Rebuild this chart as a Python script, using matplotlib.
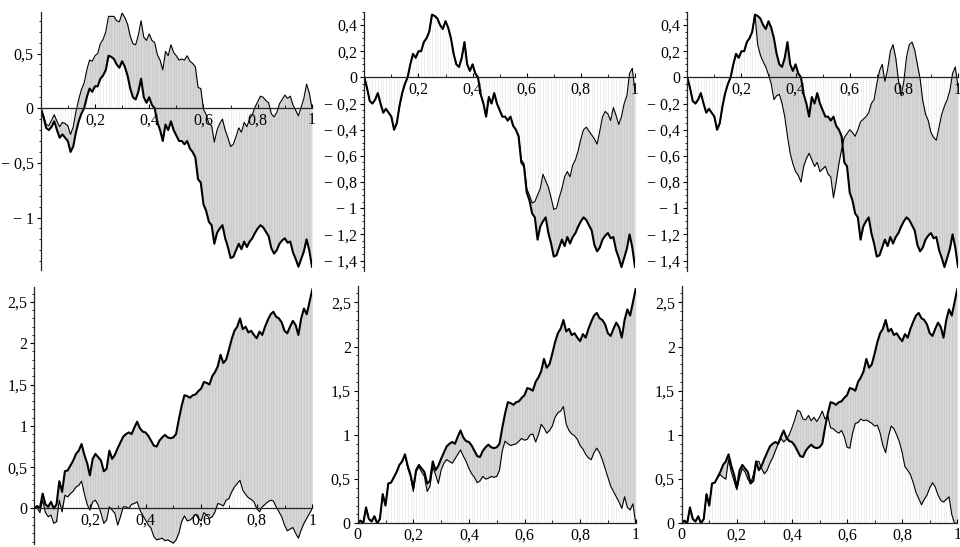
"""Six Brownian-path panels (Maple style): thick path, thin path, grey band between them."""

import numpy as np
import matplotlib

matplotlib.use("Agg")
import matplotlib.pyplot as plt  # noqa: E402
from matplotlib.ticker import FixedLocator, FuncFormatter, MultipleLocator  # noqa: E402

plt.rcParams.update(
    {
        "font.family": ["Liberation Serif", "DejaVu Serif"],
        "font.size": 11.5,
        "axes.linewidth": 0.9,
    }
)

# sample times (step 0.01)
T = np.linspace(0, 1, 101)

# top row, thick path (same in the three top panels)
B_TOP = [
    0.00, -0.08, -0.18, -0.20, -0.17, -0.12, -0.20, -0.27, -0.24, -0.27,
    -0.30, -0.40, -0.35, -0.22, -0.12, -0.05, 0.00, 0.10, 0.18, 0.15,
    0.20, 0.20, 0.27, 0.30, 0.35, 0.48, 0.47, 0.45, 0.40, 0.37,
    0.43, 0.38, 0.30, 0.18, 0.10, 0.08, 0.15, 0.27, 0.10, 0.05,
    0.10, 0.03, 0.00, -0.13, -0.20, -0.30, -0.15, -0.20, -0.12, -0.20,
    -0.25, -0.30, -0.30, -0.33, -0.30, -0.37, -0.40, -0.45, -0.65, -0.68,
    -0.88, -0.94, -1.04, -1.07, -1.24, -1.14, -1.10, -1.07, -1.19, -1.27,
    -1.37, -1.36, -1.30, -1.24, -1.29, -1.22, -1.27, -1.22, -1.19, -1.14,
    -1.10, -1.07, -1.09, -1.13, -1.17, -1.28, -1.33, -1.30, -1.24, -1.21,
    -1.19, -1.23, -1.22, -1.32, -1.38, -1.45, -1.38, -1.31, -1.20, -1.30,
    -1.45,
]

# thin path, top-left panel
THIN_1 = [
    0.00, -0.06, -0.15, -0.16, -0.11, -0.06, -0.12, -0.17, -0.13, -0.14,
    -0.16, -0.24, -0.17, -0.03, 0.08, 0.17, 0.23, 0.35, 0.44, 0.43,
    0.48, 0.50, 0.59, 0.63, 0.70, 0.84, 0.84, 0.84, 0.80, 0.79,
    0.87, 0.83, 0.77, 0.66, 0.59, 0.58, 0.67, 0.80, 0.65, 0.62,
    0.68, 0.62, 0.60, 0.49, 0.44, 0.35, 0.52, 0.48, 0.58, 0.51,
    0.48, 0.44, 0.45, 0.44, 0.48, 0.43, 0.41, 0.38, 0.19, 0.18,
    -0.01, -0.06, -0.14, -0.16, -0.31, -0.20, -0.14, -0.10, -0.20, -0.27,
    -0.35, -0.33, -0.26, -0.18, -0.22, -0.13, -0.17, -0.10, -0.06, 0.01,
    0.06, 0.11, 0.10, 0.07, 0.05, -0.05, -0.08, -0.04, 0.04, 0.08,
    0.12, 0.09, 0.11, 0.03, -0.02, -0.07, 0.01, 0.09, 0.22, 0.14,
    0.00,
]

# thin path, top-middle panel
THIN_2 = [
    0.00, -0.08, -0.18, -0.20, -0.17, -0.12, -0.20, -0.27, -0.24, -0.27,
    -0.30, -0.40, -0.35, -0.22, -0.12, -0.05, 0.00, 0.10, 0.18, 0.15,
    0.20, 0.20, 0.27, 0.30, 0.35, 0.48, 0.47, 0.45, 0.40, 0.37,
    0.43, 0.38, 0.30, 0.18, 0.10, 0.08, 0.15, 0.27, 0.10, 0.05,
    0.10, 0.03, 0.00, -0.13, -0.20, -0.30, -0.15, -0.20, -0.12, -0.20,
    -0.25, -0.30, -0.30, -0.33, -0.30, -0.37, -0.40, -0.45, -0.63, -0.66,
    -0.85, -0.90, -0.96, -0.95, -0.90, -0.85, -0.74, -0.79, -0.84, -0.92,
    -1.01, -1.00, -0.92, -0.85, -0.76, -0.72, -0.76, -0.67, -0.63, -0.56,
    -0.47, -0.40, -0.38, -0.41, -0.44, -0.47, -0.51, -0.41, -0.30, -0.26,
    -0.28, -0.33, -0.23, -0.29, -0.36, -0.30, -0.20, -0.14, 0.03, 0.07,
    -0.11,
]

# thin path, top-right panel
THIN_3 = [
    0.00, -0.08, -0.18, -0.20, -0.17, -0.12, -0.20, -0.27, -0.24, -0.27,
    -0.30, -0.40, -0.35, -0.22, -0.12, -0.05, 0.00, 0.10, 0.18, 0.15,
    0.20, 0.20, 0.27, 0.30, 0.35, 0.48, 0.25, 0.17, 0.12, 0.08,
    0.02, -0.05, -0.17, -0.14, -0.13, -0.20, -0.30, -0.45, -0.58, -0.66,
    -0.72, -0.75, -0.80, -0.68, -0.62, -0.58, -0.63, -0.68, -0.65, -0.72,
    -0.70, -0.68, -0.74, -0.76, -0.92, -0.80, -0.66, -0.55, -0.46, -0.43,
    -0.40, -0.42, -0.45, -0.40, -0.34, -0.32, -0.30, -0.27, -0.20, -0.17,
    -0.05, 0.05, 0.10, -0.03, 0.06, 0.20, 0.25, 0.15, -0.02, -0.14,
    -0.03, 0.16, 0.25, 0.27, 0.21, 0.10, -0.01, -0.18, -0.28, -0.33,
    -0.42, -0.46, -0.48, -0.38, -0.28, -0.22, -0.17, -0.10, 0.03, 0.08,
    -0.07,
]

# bottom row, thick path (same in the three bottom panels)
W_BOT = [
    0.00, 0.03, 0.00, 0.18, 0.05, 0.02, 0.08, 0.00, 0.05, 0.33,
    0.20, 0.45, 0.46, 0.52, 0.58, 0.66, 0.70, 0.78, 0.65, 0.55,
    0.40, 0.60, 0.66, 0.62, 0.58, 0.45, 0.48, 0.70, 0.60, 0.65,
    0.73, 0.80, 0.87, 0.90, 0.92, 0.90, 0.98, 1.05, 0.97, 0.93,
    0.92, 0.88, 0.82, 0.76, 0.75, 0.82, 0.86, 0.89, 0.86, 0.85,
    0.86, 0.90, 1.08, 1.24, 1.37, 1.36, 1.34, 1.37, 1.38, 1.42,
    1.45, 1.53, 1.52, 1.50, 1.60, 1.65, 1.72, 1.86, 1.76, 1.80,
    1.92, 2.05, 2.15, 2.20, 2.30, 2.17, 2.20, 2.13, 2.15, 2.10,
    2.06, 2.14, 2.10, 2.20, 2.28, 2.35, 2.38, 2.32, 2.30, 2.25,
    2.15, 2.12, 2.20, 2.27, 2.22, 2.10, 2.30, 2.42, 2.35, 2.50,
    2.65,
]

# thin path, bottom-left panel
THIN_4 = [
    0.00, 0.01, -0.05, 0.10, -0.05, -0.10, -0.08, -0.18, -0.16, 0.10,
    -0.04, 0.16, 0.14, 0.18, 0.21, 0.26, 0.28, 0.33, 0.18, 0.05,
    -0.02, 0.08, 0.10, 0.04, -0.06, -0.18, -0.14, 0.02, -0.02, -0.06,
    -0.20, -0.10, 0.02, 0.02, 0.00, 0.05, 0.06, 0.08, -0.02, -0.08,
    -0.14, -0.20, -0.24, -0.34, -0.38, -0.37, -0.36, -0.39, -0.38, -0.40,
    -0.42, -0.38, -0.30, -0.16, -0.09, -0.15, -0.14, -0.11, -0.07, -0.12,
    -0.15, -0.05, -0.08, -0.12, -0.10, -0.04, 0.06, 0.05, 0.03, 0.10,
    0.12, 0.20, 0.26, 0.30, 0.34, 0.22, 0.17, 0.13, 0.11, 0.08,
    0.00, -0.04, 0.02, 0.05, 0.08, 0.10, 0.09, 0.02, -0.04, -0.10,
    -0.20, -0.27, -0.25, -0.23, -0.30, -0.36, -0.26, -0.18, -0.12, -0.06,
    0.00,
]

# thin path, bottom-middle panel
THIN_5 = [
    0.00, 0.03, 0.00, 0.18, 0.05, 0.02, 0.08, 0.00, 0.05, 0.33,
    0.20, 0.45, 0.46, 0.52, 0.58, 0.66, 0.70, 0.78, 0.62, 0.53,
    0.36, 0.58, 0.64, 0.58, 0.53, 0.36, 0.42, 0.64, 0.55, 0.45,
    0.60, 0.68, 0.72, 0.70, 0.68, 0.73, 0.78, 0.83, 0.76, 0.70,
    0.62, 0.56, 0.52, 0.46, 0.48, 0.53, 0.50, 0.51, 0.53, 0.52,
    0.53, 0.60, 0.82, 0.93, 0.90, 0.88, 0.89, 0.90, 0.93, 0.96,
    0.94, 0.95, 1.00, 1.01, 0.92, 1.00, 1.12, 1.08, 1.02, 1.05,
    1.10, 1.20, 1.25, 1.27, 1.32, 1.12, 1.05, 1.01, 0.99, 0.95,
    0.88, 0.84, 0.78, 0.74, 0.72, 0.80, 0.85, 0.80, 0.72, 0.62,
    0.52, 0.42, 0.36, 0.30, 0.24, 0.17, 0.30, 0.18, 0.15, 0.22,
    0.00,
]

# thin path, bottom-right panel
THIN_6 = [
    0.00, 0.03, 0.00, 0.18, 0.05, 0.02, 0.08, 0.00, 0.05, 0.33,
    0.20, 0.45, 0.46, 0.52, 0.55, 0.52, 0.50, 0.72, 0.58, 0.48,
    0.38, 0.52, 0.62, 0.58, 0.50, 0.45, 0.55, 0.70, 0.70, 0.62,
    0.56, 0.60, 0.68, 0.74, 0.82, 0.90, 0.96, 0.92, 0.95, 1.00,
    1.08, 1.17, 1.28, 1.26, 1.18, 1.17, 1.22, 1.16, 1.20, 1.15,
    1.20, 1.27, 1.18, 1.22, 1.08, 1.07, 1.04, 1.02, 1.05, 0.98,
    0.86, 0.85, 1.02, 1.13, 1.14, 1.18, 1.16, 1.17, 1.15, 1.13,
    1.10, 1.11, 1.02, 0.88, 0.80, 0.98, 1.10, 1.07, 1.00, 0.92,
    0.80, 0.64, 0.60, 0.55, 0.46, 0.35, 0.28, 0.21, 0.27, 0.32,
    0.40, 0.46, 0.41, 0.32, 0.26, 0.24, 0.27, 0.30, 0.10, 0.00,
    0.00,
]


def fmt_tick(v, _pos=None):
    v = round(v, 3)
    if abs(v) < 1e-9:
        return "0"
    s = f"{abs(v):g}".replace(".", ",")
    return ("\u2212 " + s) if v < 0 else s


def draw_panel(ax, thick, thin, ylim, ymajor, yminor, xticks):
    thick = np.asarray(thick)
    thin = np.asarray(thin)
    lo = np.minimum(thick, thin)
    hi = np.maximum(thick, thin)
    near = np.where(lo > 0, lo, np.where(hi < 0, hi, 0.0))

    # faint stripes between the axis and the band, grey stripes inside the band
    ax.vlines(T, 0, near, color="#efefef", lw=0.7, zorder=1)
    ax.fill_between(T, lo, hi, color="#d6d6d6", lw=0, zorder=1.2)
    ax.vlines(T, lo, hi, color="#c9c9c9", lw=0.6, zorder=1.3)

    ax.plot(T, thin, color="black", lw=0.8, zorder=3)
    ax.plot(T, thick, color="black", lw=1.5, zorder=4)

    ax.set_xlim(0, 1)
    ax.set_ylim(*ylim)
    ax.patch.set_alpha(0)
    for side in ("top", "right"):
        ax.spines[side].set_visible(False)
    ax.spines["bottom"].set_position(("data", 0))
    for side in ("left", "bottom"):
        ax.spines[side].set_color("#222222")
        ax.spines[side].set_zorder(5)

    ax.xaxis.set_major_locator(FixedLocator(xticks))
    ax.xaxis.set_minor_locator(MultipleLocator(0.1))
    ax.yaxis.set_major_locator(MultipleLocator(ymajor))
    ax.yaxis.set_minor_locator(MultipleLocator(yminor))
    ax.xaxis.set_major_formatter(FuncFormatter(fmt_tick))
    ax.yaxis.set_major_formatter(FuncFormatter(fmt_tick))
    ax.tick_params(axis="x", which="major", direction="in", length=3, width=0.8, pad=3)
    ax.tick_params(axis="x", which="minor", direction="in", length=2, width=0.6)
    ax.tick_params(axis="y", which="major", direction="out", length=3, width=0.8, pad=2)
    ax.tick_params(axis="y", which="minor", direction="out", length=1.8, width=0.6)


W_PX, H_PX = 960, 547


def add_axes(fig, left, right, top, bottom):
    return fig.add_axes(
        [left / W_PX, 1 - bottom / H_PX, (right - left) / W_PX, (bottom - top) / H_PX]
    )


def main():
    fig = plt.figure(figsize=(9.6, 5.47), dpi=100)

    xt_no0 = [0.2, 0.4, 0.6, 0.8, 1.0]
    xt_all = [0.0, 0.2, 0.4, 0.6, 0.8, 1.0]

    ax1 = add_axes(fig, 40.7, 312, 12, 270)
    draw_panel(ax1, B_TOP, THIN_1, (-1.48, 0.88), 0.5, 0.1, xt_no0)

    ax2 = add_axes(fig, 364.3, 635, 12, 271)
    draw_panel(ax2, B_TOP, THIN_2, (-1.48, 0.50), 0.2, 0.05, xt_no0)

    ax3 = add_axes(fig, 687.3, 958, 12, 271)
    draw_panel(ax3, B_TOP, THIN_3, (-1.48, 0.50), 0.2, 0.05, xt_no0)

    ax4 = add_axes(fig, 34.3, 312.3, 287, 544)
    draw_panel(ax4, W_BOT, THIN_4, (-0.43, 2.68), 0.5, 0.1, xt_no0)

    ax5 = add_axes(fig, 357.7, 635.7, 286.4, 523.3)
    draw_panel(ax5, W_BOT, THIN_5, (0, 2.68), 0.5, 0.1, xt_all)

    ax6 = add_axes(fig, 681.7, 957.3, 286.4, 523.3)
    draw_panel(ax6, W_BOT, THIN_6, (0, 2.68), 0.5, 0.1, xt_all)

    fig.savefig("out.png", dpi=100)
    plt.close(fig)


if __name__ == "__main__":
    main()
